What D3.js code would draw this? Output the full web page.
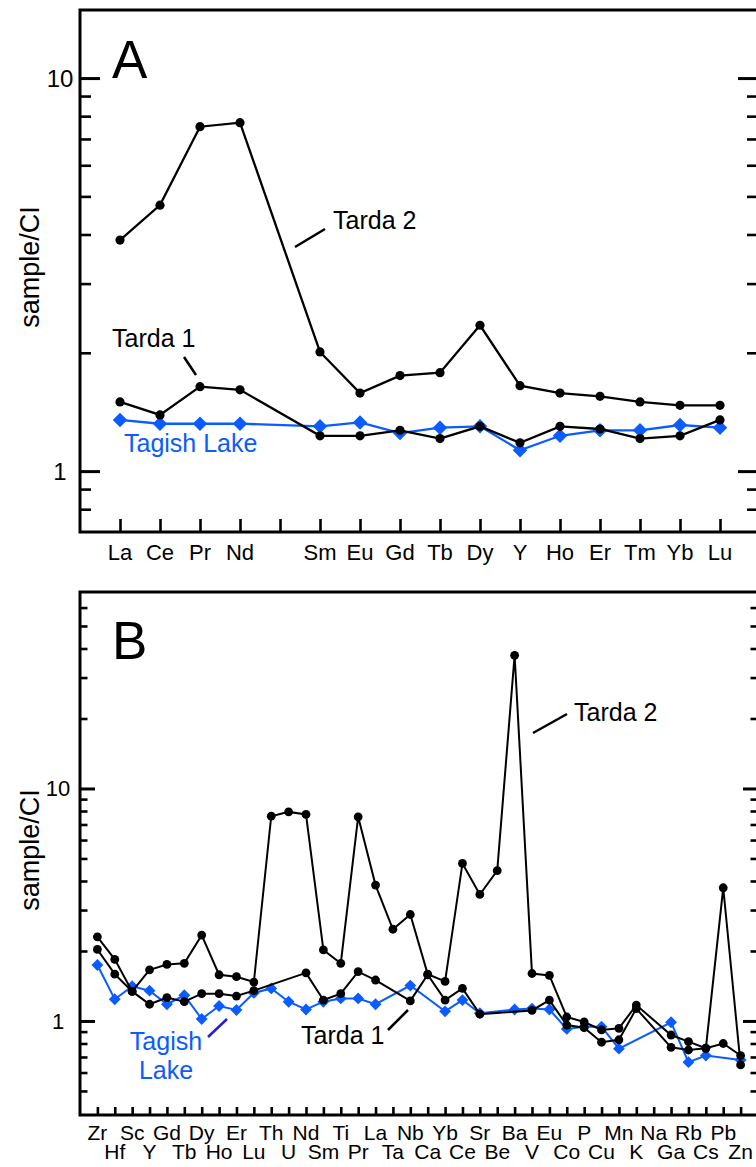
<!DOCTYPE html>
<html>
<head>
<meta charset="utf-8">
<script src="https://cdn.jsdelivr.net/npm/d3@7"></script>
<style>
  body { margin: 0; background: #fff; }
  svg text { font-family: "Liberation Sans", Arial, sans-serif; fill: #000; }
</style>
</head>
<body>
<div id="container"></div>
<script>
// panel A: rare earth elements
var reeCats = ["La","Ce","Pr","Nd","","Sm","Eu","Gd","Tb","Dy","Y","Ho","Er","Tm","Yb","Lu"];
var reeTarda2 = [3.87,4.75,7.52,7.70,null,2.01,1.58,1.75,1.78,2.35,1.65,1.58,1.55,1.50,1.47,1.47];
var reeTarda1 = [1.50,1.39,1.64,1.61,null,1.23,1.23,1.27,1.21,1.30,1.18,1.30,1.28,1.21,1.23,1.35];
var reeTagish = [1.35,1.32,1.32,1.32,null,1.30,1.33,1.25,1.29,1.30,1.13,1.23,1.27,1.27,1.31,1.29];

// panel B: all elements
var allCats = ["Zr","Hf","Sc","Y","Gd","Tb","Dy","Ho","Er","Lu","Th","U","Nd","Sm","Ti","Pr","La","Ta","Nb","Ca",
               "Yb","Ce","Sr","Be","Ba","V","Eu","Co","P","Cu","Mn","K","Na","Ga","Rb","Cs","Pb","Zn"];
var allTarda2 = [2.30,1.84,1.34,1.66,1.75,1.77,2.34,1.58,1.55,1.47,7.60,7.93,7.73,2.02,1.77,7.55,3.84,2.48,2.87,1.59,
                 1.48,4.76,3.50,4.43,37.4,1.60,1.57,1.04,0.99,0.915,0.93,1.17,null,0.87,0.815,0.763,3.74,0.647];
var allTarda1 = [2.03,1.59,1.34,1.18,1.26,1.21,1.31,1.31,1.28,1.35,null,null,1.61,1.23,1.31,1.63,1.50,null,1.22,1.58,
                 1.23,1.38,1.07,null,null,1.11,1.23,0.96,0.936,0.81,0.83,1.13,null,0.77,0.75,0.763,0.80,0.71];
var allTagish = [1.74,1.24,1.41,1.35,1.18,1.29,1.02,1.16,1.115,1.32,1.38,1.21,1.12,1.21,1.25,1.25,1.18,null,1.42,null,
                 1.10,1.23,1.08,null,1.12,1.13,1.12,0.924,0.945,0.945,0.76,null,null,0.987,0.665,0.71,null,0.68];

var minorA = [0.8,0.9,2,3,4,5,6,7,8,9];
var minorB = [0.5,0.6,0.7,0.8,0.9,2,3,4,5,6,7,8,9,20,30,40,50,60];
var majorTicks = [1,10];

var blue = "#0a5cff";

var svg = d3.select('#container')
  .append('svg')
  .attr('width', 756)
  .attr('height', 1167);

function pts(vals) {
  var out = [];
  vals.forEach(function(v, i) { if (v != null) out.push({ i: i, v: v }); });
  return out;
}

function panel(o) {
  var g = svg.append('g');
  var x = d3.scaleLinear().domain(o.xdom).range([o.left, o.right]);
  var y = d3.scaleLog().domain(o.ydom).range([o.bottom, o.top]);

  // x ticks (inward)
  g.append('g')
    .attr('transform', 'translate(0,' + o.bottom + ')')
    .call(d3.axisBottom(x).tickValues(d3.range(o.cats.length)).tickSize(-o.xTick).tickFormat(''))
    .call(function(s) {
      s.select('.domain').remove();
      s.selectAll('line').attr('stroke-width', 2.6);
    });

  // y ticks left and right
  [['left', o.left], ['right', o.right]].forEach(function(side) {
    var ax = side[0] == 'left' ? d3.axisLeft : d3.axisRight;
    var gg = g.append('g').attr('transform', 'translate(' + side[1] + ',0)');
    gg.append('g').call(ax(y).tickValues(o.minor).tickSize(-o.minorLen).tickFormat(''))
      .call(function(s) { s.select('.domain').remove(); s.selectAll('line').attr('stroke-width', 2.6); });
    gg.append('g').call(ax(y).tickValues(majorTicks).tickSize(-o.majorLen).tickFormat(''))
      .call(function(s) { s.select('.domain').remove(); s.selectAll('line').attr('stroke-width', 3); });
  });

  // y labels
  g.selectAll('.ylab').data(majorTicks).enter().append('text')
    .attr('x', o.ylabX).attr('y', function(d) { return y(d); })
    .attr('dy', '0.36em')
    .attr('text-anchor', 'middle')
    .style('font-size', o.ylabSize + 'px')
    .text(function(d) { return d; });

  // frame
  g.append('path')
    .attr('d', 'M' + o.right + ',' + o.top + 'H' + o.left + 'V' + o.bottom + 'H' + o.right + 'V' + o.top)
    .attr('fill', 'none').attr('stroke', '#000').attr('stroke-width', 3);

  // x labels
  g.selectAll('.xlab').data(o.cats).enter().append('text')
    .attr('x', function(d, i) { return x(i); })
    .attr('y', function(d, i) { return o.twoRows && i % 2 ? o.labY2 : o.labY; })
    .attr('text-anchor', 'middle')
    .style('font-size', o.xlabSize + 'px')
    .text(function(d) { return d; });

  var line = d3.line().x(function(d) { return x(d.i); }).y(function(d) { return y(d.v); });

  // Tagish Lake first, black drawn on top
  var tp = pts(o.tagish);
  g.append('path').attr('d', line(tp)).attr('fill', 'none').attr('stroke', blue).attr('stroke-width', o.lw);
  g.selectAll('.dia').data(tp).enter().append('path')
    .attr('d', d3.symbol().type(d3.symbolSquare).size(o.diaSize)())
    .attr('transform', function(d) { return 'translate(' + x(d.i) + ',' + y(d.v) + ') rotate(45)'; })
    .attr('fill', blue);

  [o.tarda2, o.tarda1].forEach(function(s) {
    var p = pts(s);
    g.append('path').attr('d', line(p)).attr('fill', 'none').attr('stroke', '#000').attr('stroke-width', o.lw);
    g.selectAll(null).data(p).enter().append('circle')
      .attr('cx', function(d) { return x(d.i); })
      .attr('cy', function(d) { return y(d.v); })
      .attr('r', o.r);
  });

  // y title
  g.append('text')
    .attr('transform', 'translate(' + 39 + ',' + o.titleY + ') rotate(-90)')
    .attr('text-anchor', 'middle')
    .style('font-size', '27px')
    .text('sample/CI');

  // panel letter
  g.append('text').attr('x', 112).attr('y', o.letterY).style('font-size', '53px').text(o.letter);

  return g;
}

var gA = panel({
  letter: 'A', letterY: 78,
  cats: reeCats, tarda2: reeTarda2, tarda1: reeTarda1, tagish: reeTagish,
  left: 80, right: 758, top: 10, bottom: 532,
  xdom: [-1, (758 - 120) / 40], ydom: [0.7, 14.9],
  minor: minorA, xTick: 13, majorLen: 20, minorLen: 11,
  ylabX: 60, ylabSize: 24, xlabSize: 22, labY: 560, twoRows: false,
  lw: 2.3, r: 4.6, diaSize: 105, titleY: 267
});

gA.append('text').attr('x', 333).attr('y', 229).style('font-size', '25px').text('Tarda 2');
gA.append('line').attr('x1', 295).attr('y1', 247).attr('x2', 325).attr('y2', 229).attr('stroke', '#000').attr('stroke-width', 2.5);
gA.append('text').attr('x', 112).attr('y', 347).style('font-size', '25px').text('Tarda 1');
gA.append('line').attr('x1', 184).attr('y1', 357).attr('x2', 196).attr('y2', 375).attr('stroke', '#000').attr('stroke-width', 2.5);
gA.append('text').attr('x', 124).attr('y', 452).style('font-size', '25px').style('fill', blue).text('Tagish Lake');

var gB = panel({
  letter: 'B', letterY: 659,
  cats: allCats, tarda2: allTarda2, tarda1: allTarda1, tagish: allTagish,
  left: 80, right: 758, top: 592, bottom: 1115,
  xdom: [-1, 38], ydom: [0.394, 70],
  minor: minorB, xTick: 8, majorLen: 15, minorLen: 7.5,
  ylabX: 58, ylabSize: 22, xlabSize: 21, labY: 1140, labY2: 1159, twoRows: true,
  lw: 2, r: 4.4, diaSize: 70, titleY: 850
});

gB.append('text').attr('x', 574).attr('y', 721).style('font-size', '25px').text('Tarda 2');
gB.append('line').attr('x1', 533).attr('y1', 733).attr('x2', 567).attr('y2', 714).attr('stroke', '#000').attr('stroke-width', 2.5);
gB.append('text').attr('x', 301).attr('y', 1044).style('font-size', '25px').text('Tarda 1');
gB.append('line').attr('x1', 388).attr('y1', 1030).attr('x2', 408).attr('y2', 1010).attr('stroke', '#000').attr('stroke-width', 2.5);
gB.append('text').attr('x', 166).attr('y', 1050).attr('text-anchor', 'middle').style('font-size', '25px').style('fill', blue).text('Tagish');
gB.append('text').attr('x', 166).attr('y', 1079).attr('text-anchor', 'middle').style('font-size', '25px').style('fill', blue).text('Lake');
gB.append('line').attr('x1', 208).attr('y1', 1037).attr('x2', 227).attr('y2', 1019).attr('stroke', '#2020d0').attr('stroke-width', 2.5);
</script>
</body>
</html>
